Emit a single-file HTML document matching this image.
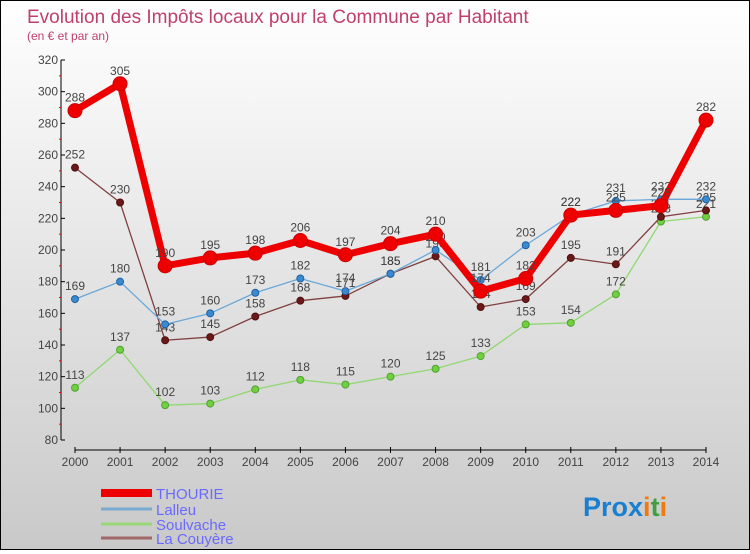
<!DOCTYPE html>
<html><head><meta charset="utf-8"><style>
html,body{margin:0;padding:0;}
body{width:750px;height:550px;overflow:hidden;font-family:"Liberation Sans",sans-serif;}
#wrap{position:relative;width:748px;height:548px;border:1px solid #000;background:linear-gradient(#ffffff,#c9c9c9);}
svg text{font-family:"Liberation Sans",sans-serif;}
</style></head><body>
<div id="wrap">
<svg id="chart" width="748" height="548" xmlns="http://www.w3.org/2000/svg">
<text x="26" y="22" font-size="19" fill="#c0406a">Evolution des Impôts locaux pour la Commune par Habitant</text>
<text x="26" y="39" font-size="12" fill="#c0406a">(en € et par an)</text>
<g id="axes"></g>
<g id="series"></g>
<g id="legend"></g>
<g>
<text x="582" y="515" font-size="27" font-weight="bold"><tspan fill="#1a7fd0">Pro</tspan><tspan fill="#1a7fd0">x</tspan><tspan fill="#f07a10">i</tspan><tspan fill="#40a040">t</tspan><tspan fill="#f07a10">i</tspan></text>
</g>
</svg>
</div>
<script>
const years = [2000,2001,2002,2003,2004,2005,2006,2007,2008,2009,2010,2011,2012,2013,2014];
const yTicks = [80,100,120,140,160,180,200,220,240,260,280,300,320];
const thourie = [288,305,190,195,198,206,197,204,210,174,182,222,225,228,282];
const lalleu = [169,180,153,160,173,182,174,185,200,181,203,222,231,232,232];
const soulvache = [113,137,102,103,112,118,115,120,125,133,153,154,172,218,221];
const couyere = [252,230,143,145,158,168,171,185,196,164,169,195,191,221,225];

const NS = "http://www.w3.org/2000/svg";
function x(i){ return 74 + i*(705-74)/(years.length-1); }
function y(v){ return 439 - (v-80)*(380/240); }
function mk(tag, attrs, parent){ const e=document.createElementNS(NS,tag); for(const k in attrs) e.setAttribute(k,attrs[k]); parent.appendChild(e); return e; }

const axes = document.getElementById('axes');
let yl = mk('line',{x1:60,y1:y(320),x2:60,y2:y(80),stroke:'#000','stroke-width':1},axes);


yTicks.forEach(t=>{
  let tk = mk('line',{x1:60,y1:y(t),x2:64,y2:y(t),stroke:'#000'},axes);
  
  
  let lb = mk('text',{x:57,y:y(t)+4,'font-size':12,'text-anchor':'end',fill:'#444'},axes);
  lb.textContent = t;
  
  
  if(t<320){ let m = mk('line',{x1:58,y1:y(t+10),x2:60,y2:y(t+10),stroke:'#e00'},axes);
    
     }
});
let xl = mk('line',{x1:x(0),y1:449,x2:x(14),y2:449,stroke:'#000'},axes);


years.forEach((yr,i)=>{
  let tk = mk('line',{x1:x(i),y1:446,x2:x(i),y2:452,stroke:'#000'},axes);
  
  
  let lb = mk('text',{x:x(i),y:465,'font-size':12,'text-anchor':'middle',fill:'#444'},axes);
  lb.textContent = yr;
  
  
});

const ser = document.getElementById('series');
function draw(data,color,dot,w,r,name,edge){
  const g = mk('g',{},ser);
  
  
  const p = mk('polyline',{points:data.map((v,i)=>x(i)+','+y(v)).join(' '),fill:'none',stroke:color,'stroke-width':w,'stroke-linejoin':'round'},g);
  
  
  data.forEach((v,i)=>{
    const c = mk('circle',{cx:x(i),cy:y(v),r:r,fill:dot,stroke:edge,'stroke-width':1},g);
    
    
    const t = mk('text',{x:x(i),y:y(v)-9,'font-size':12,'text-anchor':'middle',fill:'#444'},g);
    t.textContent = v;
    
    
  });
}
draw(soulvache,'#90d870','#70d040',1.3,3.5,'soulvache','#50a030');
draw(couyere,'#804040','#6a1818',1.3,3.5,'la-couyere','#501010');
draw(lalleu,'#6aa8d8','#3a8ad0',1.3,3.5,'lalleu','#2060a0');
draw(thourie,'#ee0000','#ee0000',7,7,'thourie','#cc0000');

const leg = document.getElementById('legend');
const legNames = ['THOURIE','Lalleu','Soulvache','La Couyère'];
const legColors = ['#ee0000','#7aaad0','#98d878','#a06868'];
const legW = [8,3,3,3];
const legY = [492,508,523,537];
legNames.forEach((n,i)=>{
  const g = mk('g',{},leg);
  
  
  const l = mk('line',{x1:100,y1:legY[i],x2:151,y2:legY[i],stroke:legColors[i],'stroke-width':legW[i]},g);
  
  
  const t = mk('text',{x:155,y:legY[i]+6,'font-size':15,fill:'#6a6aff'},g);
  t.textContent = n;
  
  
});
</script>
</body></html>
